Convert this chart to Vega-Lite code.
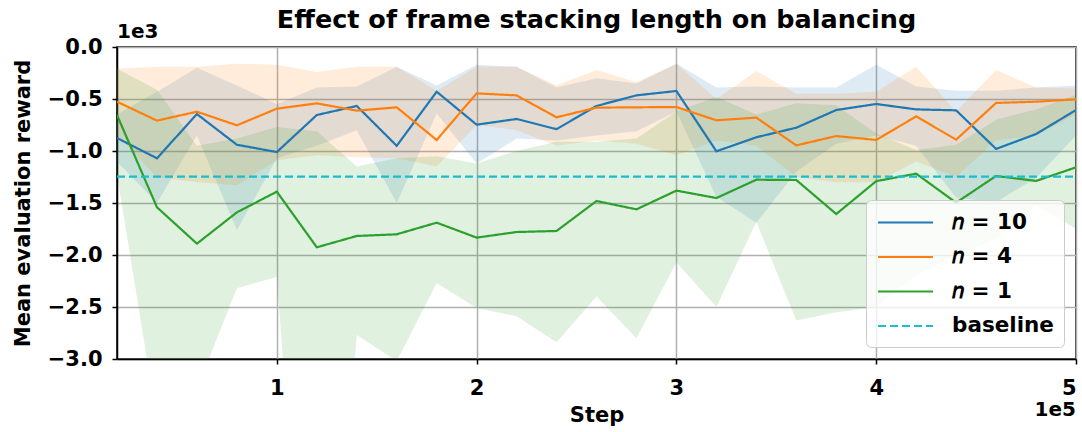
{
  "$schema": "https://vega.github.io/schema/vega-lite/v6.json",
  "autosize": "none",
  "width": 959,
  "height": 312,
  "padding": {"left": 117, "top": 47, "right": 6, "bottom": 73},
  "title": {
    "text": "Effect of frame stacking length on balancing",
    "font": "DejaVu Sans",
    "fontSize": 25.5,
    "fontWeight": "bold",
    "color": "#000000",
    "anchor": "middle",
    "frame": "group",
    "offset": -11
  },
  "config": {
    "view": {"stroke": "#000000", "strokeWidth": 1.5},
    "axis": {
      "labelFont": "DejaVu Sans",
      "labelFontWeight": "bold",
      "labelFontSize": 21,
      "labelColor": "#000000",
      "titleFont": "DejaVu Sans",
      "titleFontWeight": "bold",
      "titleFontSize": 21,
      "titleColor": "#000000",
      "domainColor": "#000000",
      "domainWidth": 1.5,
      "tickColor": "#000000",
      "tickWidth": 1.5,
      "tickSize": 5,
      "gridColor": "#b0b0b0",
      "gridWidth": 1.5
    },
    "legend": {
      "labelFont": "DejaVu Sans",
      "labelFontWeight": "bold",
      "labelFontSize": 21.5,
      "labelColor": "#000000"
    }
  },
  "data": {
    "values": [
      {"step": 20000, "series": "n10", "mean": -875, "lo": -1100, "hi": -650},
      {"step": 40000, "series": "n10", "mean": -1070, "lo": -1500, "hi": -430},
      {"step": 60000, "series": "n10", "mean": -645, "lo": -850, "hi": -200},
      {"step": 80000, "series": "n10", "mean": -940, "lo": -1760, "hi": -370},
      {"step": 100000, "series": "n10", "mean": -1010, "lo": -1070, "hi": -550},
      {"step": 120000, "series": "n10", "mean": -654, "lo": -950, "hi": -390},
      {"step": 140000, "series": "n10", "mean": -567, "lo": -800, "hi": -380},
      {"step": 160000, "series": "n10", "mean": -950, "lo": -1500, "hi": -190},
      {"step": 180000, "series": "n10", "mean": -430, "lo": -640, "hi": -370},
      {"step": 200000, "series": "n10", "mean": -747, "lo": -1120, "hi": -170},
      {"step": 220000, "series": "n10", "mean": -692, "lo": -880, "hi": -190},
      {"step": 240000, "series": "n10", "mean": -790, "lo": -900, "hi": -390},
      {"step": 260000, "series": "n10", "mean": -567, "lo": -850, "hi": -300},
      {"step": 280000, "series": "n10", "mean": -465, "lo": -810, "hi": -350},
      {"step": 300000, "series": "n10", "mean": -423, "lo": -620, "hi": -160},
      {"step": 320000, "series": "n10", "mean": -1003, "lo": -1440, "hi": -390},
      {"step": 340000, "series": "n10", "mean": -868, "lo": -1690, "hi": -380},
      {"step": 360000, "series": "n10", "mean": -776, "lo": -1200, "hi": -390},
      {"step": 380000, "series": "n10", "mean": -606, "lo": -930, "hi": -390},
      {"step": 400000, "series": "n10", "mean": -548, "lo": -850, "hi": -170},
      {"step": 420000, "series": "n10", "mean": -600, "lo": -950, "hi": -380},
      {"step": 440000, "series": "n10", "mean": -609, "lo": -1450, "hi": -420},
      {"step": 460000, "series": "n10", "mean": -980, "lo": -1490, "hi": -420},
      {"step": 480000, "series": "n10", "mean": -837, "lo": -1260, "hi": -390},
      {"step": 500000, "series": "n10", "mean": -606, "lo": -850, "hi": -370},

      {"step": 20000, "series": "n4", "mean": -526, "lo": -850, "hi": -210},
      {"step": 40000, "series": "n4", "mean": -708, "lo": -1250, "hi": -190},
      {"step": 60000, "series": "n4", "mean": -622, "lo": -1300, "hi": -190},
      {"step": 80000, "series": "n4", "mean": -753, "lo": -1330, "hi": -160},
      {"step": 100000, "series": "n4", "mean": -593, "lo": -1090, "hi": -170},
      {"step": 120000, "series": "n4", "mean": -542, "lo": -1040, "hi": -240},
      {"step": 140000, "series": "n4", "mean": -612, "lo": -1060, "hi": -190},
      {"step": 160000, "series": "n4", "mean": -580, "lo": -1070, "hi": -190},
      {"step": 180000, "series": "n4", "mean": -894, "lo": -1150, "hi": -420},
      {"step": 200000, "series": "n4", "mean": -446, "lo": -750, "hi": -190},
      {"step": 220000, "series": "n4", "mean": -465, "lo": -800, "hi": -190},
      {"step": 240000, "series": "n4", "mean": -676, "lo": -950, "hi": -370},
      {"step": 260000, "series": "n4", "mean": -583, "lo": -900, "hi": -220},
      {"step": 280000, "series": "n4", "mean": -580, "lo": -930, "hi": -340},
      {"step": 300000, "series": "n4", "mean": -577, "lo": -1040, "hi": -160},
      {"step": 320000, "series": "n4", "mean": -705, "lo": -900, "hi": -500},
      {"step": 340000, "series": "n4", "mean": -679, "lo": -950, "hi": -230},
      {"step": 360000, "series": "n4", "mean": -946, "lo": -1250, "hi": -450},
      {"step": 380000, "series": "n4", "mean": -856, "lo": -1300, "hi": -450},
      {"step": 400000, "series": "n4", "mean": -894, "lo": -1300, "hi": -430},
      {"step": 420000, "series": "n4", "mean": -667, "lo": -1100, "hi": -190},
      {"step": 440000, "series": "n4", "mean": -891, "lo": -1250, "hi": -620},
      {"step": 460000, "series": "n4", "mean": -538, "lo": -900, "hi": -220},
      {"step": 480000, "series": "n4", "mean": -526, "lo": -850, "hi": -390},
      {"step": 500000, "series": "n4", "mean": -503, "lo": -650, "hi": -400},

      {"step": 20000, "series": "n1", "mean": -654, "lo": -1230, "hi": -210},
      {"step": 40000, "series": "n1", "mean": -1541, "lo": -3590, "hi": -410},
      {"step": 60000, "series": "n1", "mean": -1891, "lo": -3290, "hi": -950},
      {"step": 80000, "series": "n1", "mean": -1590, "lo": -2320, "hi": -880},
      {"step": 100000, "series": "n1", "mean": -1391, "lo": -2210, "hi": -770},
      {"step": 120000, "series": "n1", "mean": -1926, "lo": -7400, "hi": -810},
      {"step": 140000, "series": "n1", "mean": -1817, "lo": -2770, "hi": -1150},
      {"step": 160000, "series": "n1", "mean": -1801, "lo": -3020, "hi": -1070},
      {"step": 180000, "series": "n1", "mean": -1689, "lo": -2270, "hi": -1050},
      {"step": 200000, "series": "n1", "mean": -1833, "lo": -2510, "hi": -1120},
      {"step": 220000, "series": "n1", "mean": -1779, "lo": -2590, "hi": -1000},
      {"step": 240000, "series": "n1", "mean": -1769, "lo": -2840, "hi": -910},
      {"step": 260000, "series": "n1", "mean": -1481, "lo": -2400, "hi": -910},
      {"step": 280000, "series": "n1", "mean": -1561, "lo": -2800, "hi": -880},
      {"step": 300000, "series": "n1", "mean": -1381, "lo": -2070, "hi": -620},
      {"step": 320000, "series": "n1", "mean": -1452, "lo": -2500, "hi": -480},
      {"step": 340000, "series": "n1", "mean": -1276, "lo": -1680, "hi": -650},
      {"step": 360000, "series": "n1", "mean": -1279, "lo": -2630, "hi": -540},
      {"step": 380000, "series": "n1", "mean": -1606, "lo": -2550, "hi": -560},
      {"step": 400000, "series": "n1", "mean": -1290, "lo": -2500, "hi": -830},
      {"step": 420000, "series": "n1", "mean": -1218, "lo": -2200, "hi": -990},
      {"step": 440000, "series": "n1", "mean": -1497, "lo": -2000, "hi": -940},
      {"step": 460000, "series": "n1", "mean": -1240, "lo": -1850, "hi": -700},
      {"step": 480000, "series": "n1", "mean": -1288, "lo": -1520, "hi": -600},
      {"step": 500000, "series": "n1", "mean": -1157, "lo": -1750, "hi": -460},

      {"step": 20000, "series": "baseline", "mean": -1247},
      {"step": 500000, "series": "baseline", "mean": -1247}
    ]
  },
  "layer": [
    {
      "transform": [{"filter": "datum.series !== 'baseline'"}],
      "mark": {"type": "area", "fillOpacity": 0.15, "clip": true},
      "encoding": {
        "x": {"field": "step", "type": "quantitative"},
        "y": {"field": "lo", "type": "quantitative"},
        "y2": {"field": "hi"},
        "color": {
          "field": "series",
          "type": "nominal",
          "scale": {
            "domain": ["n10", "n4", "n1", "baseline"],
            "range": ["#1f77b4", "#ff7f0e", "#2ca02c", "#17becf"]
          }
        }
      }
    },
    {
      "mark": {"type": "line", "strokeWidth": 2.2, "clip": true},
      "encoding": {
        "x": {
          "field": "step",
          "type": "quantitative",
          "title": "Step",
          "scale": {"domain": [20000, 500000], "nice": false, "zero": false},
          "axis": {
            "values": [100000, 200000, 300000, 400000, 500000],
            "labelExpr": "format(datum.value / 100000, 'd')",
            "labelPadding": 13,
            "titlePadding": 6
          }
        },
        "y": {
          "field": "mean",
          "type": "quantitative",
          "title": "Mean evaluation reward",
          "scale": {"domain": [-3000, 0], "nice": false},
          "axis": {
            "values": [-3000, -2500, -2000, -1500, -1000, -500, 0],
            "labelExpr": "replace(format(datum.value / 1000, '.1f'), '-', '\u2212')",
            "labelPadding": 10,
            "titlePadding": 14
          }
        },
        "color": {
          "field": "series",
          "type": "nominal",
          "scale": {
            "domain": ["n10", "n4", "n1", "baseline"],
            "range": ["#1f77b4", "#ff7f0e", "#2ca02c", "#17becf"]
          },
          "legend": {
            "title": null,
            "orient": "bottom-right",
            "offset": 12,
            "symbolType": "M-2.5,0H2.5",
            "symbolSize": 484,
            "symbolStrokeWidth": 2.2,
            "symbolOpacity": 1,
            "symbolFillColor": "transparent",
            "symbolOffset": 17,
            "rowPadding": 11.5,
            "labelOffset": 34,
            "padding": 10,
            "fillColor": "rgba(255,255,255,0.8)",
            "strokeColor": "#cccccc",
            "cornerRadius": 5,
            "labelExpr": "datum.value === 'n10' ? '\ud835\udc5b = 10' : datum.value === 'n4' ? '\ud835\udc5b = 4' : datum.value === 'n1' ? '\ud835\udc5b = 1' : 'baseline'"
          }
        },
        "strokeDash": {
          "field": "series",
          "type": "nominal",
          "scale": {
            "domain": ["n10", "n4", "n1", "baseline"],
            "range": [[1, 0], [1, 0], [1, 0], [8, 4]]
          }
        }
      }
    },
    {
      "data": {"values": [{}]},
      "mark": {"type": "text", "font": "DejaVu Sans", "fontWeight": "bold", "fontSize": 20, "align": "left", "baseline": "alphabetic", "dy": -9},
      "encoding": {
        "x": {"datum": 20000},
        "y": {"datum": 0},
        "text": {"value": "1e3"}
      }
    },
    {
      "data": {"values": [{}]},
      "mark": {"type": "text", "font": "DejaVu Sans", "fontWeight": "bold", "fontSize": 20, "align": "right", "baseline": "alphabetic", "dy": 57},
      "encoding": {
        "x": {"datum": 500000},
        "y": {"datum": -3000},
        "text": {"value": "1e5"}
      }
    }
  ]
}
